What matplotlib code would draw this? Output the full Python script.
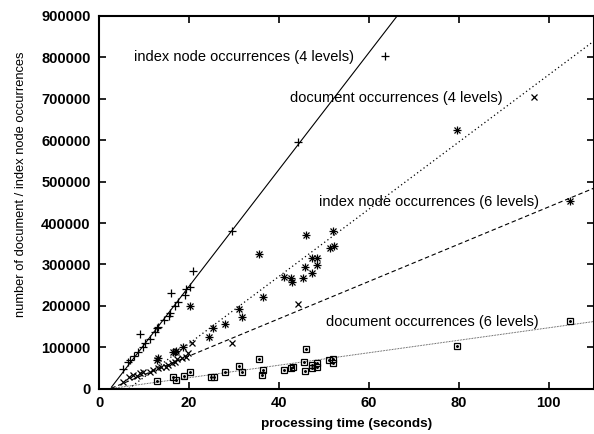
import matplotlib
matplotlib.use("Agg")
import matplotlib.pyplot as plt
from matplotlib.legend import Legend
from matplotlib.legend_handler import HandlerTuple
import numpy as np

plt.rcParams['font.family'] = ['Liberation Sans', 'DejaVu Sans']

# ---------------- data ----------------
# index node occurrences (4 levels)  -> '+'
idx4_time = [5.3, 6.5, 6.9, 7.8, 8.6, 9.1, 9.8, 10.2, 11.3, 12.4, 12.8, 13.2, 14.4,
             15.6, 15.8, 16.0, 16.9, 17.6, 19.1, 19.3, 20.2, 21.0, 29.5, 44.3]
idx4_count = [47600, 65000, 69000, 80000, 89000, 132000, 101000, 110000, 119000, 138000,
              147000, 150000, 166000, 175000, 182000, 230000, 200000, 210000, 226000,
              241000, 245000, 283000, 381000, 596000]

# document occurrences (4 levels) -> 'x'
doc4_time = [5.4, 6.7, 7.6, 8.4, 9.1, 9.8, 11.3, 12.1, 13.2, 13.9, 14.9, 15.4, 16.2,
             16.9, 17.4, 18.4, 19.3, 19.8, 20.7, 29.5, 44.3]
doc4_count = [17000, 27500, 33000, 30700, 37000, 41000, 41000, 45000, 49000, 53000, 51700,
              57000, 61000, 65000, 71000, 73000, 75800, 85000, 109600, 110000, 204500]

# index node occurrences (6 levels) -> '*'
idx6_time = [12.8, 13.2, 16.5, 16.9, 17.2, 18.7, 20.2, 24.4, 25.4, 28.0, 31.1, 31.7,
             35.6, 36.4, 41.1, 42.8, 43.0, 45.4, 45.8, 46.0, 47.3, 47.3, 48.4, 48.4,
             51.3, 52.1, 52.2, 79.6]
idx6_count = [69000, 74000, 89000, 88000, 92000, 101000, 199000, 126000, 147000, 155500,
              191700, 173800, 324500, 220700, 268900, 266500, 258300, 266500, 294500,
              371000, 280000, 314800, 314800, 298600, 339000, 380700, 344500, 624500]

# document occurrences (6 levels) -> squares
doc6_time = [13.0, 16.4, 17.1, 18.8, 20.3, 25.0, 25.5, 28.0, 31.1, 31.7, 35.6, 36.3, 36.4,
             41.2, 42.8, 43.2, 45.6, 45.8, 46.0, 47.3, 47.4, 48.4, 48.5, 51.1, 52.1, 52.1, 79.6]
doc6_count = [18000, 27500, 21000, 30000, 41000, 29000, 27500, 40000, 55000, 39600, 71700,
              33000, 45100, 46000, 49200, 53000, 65200, 43500, 95100, 57000, 49200, 61300,
              53000, 69300, 71000, 61300, 103800]

# linear fits: count = slope * time + intercept
fit_slope = [14100, 4500, 8110, 1506]
fit_intercept = [-35300, -11250, -53500, -3600]

labels = ['index node occurrences (4 levels)', 'document occurrences (4 levels)',
          'index node occurrences (6 levels)', 'document occurrences (6 levels)']

x_ticks = [0, 20, 40, 60, 80, 100]
y_ticks = [0, 100000, 200000, 300000, 400000, 500000, 600000, 700000, 800000, 900000]

# ---------------- figure ----------------
W, H = 594, 434
fig = plt.figure(figsize=(W / 100, H / 100), dpi=100)
ax_l, ax_r, ax_t, ax_b = 99, 593.5, 15.9, 388.7
ax = fig.add_axes([ax_l / W, (H - ax_b) / H, (ax_r - ax_l) / W, (ax_b - ax_t) / H])
ax.set_xlim(0, 110)
ax.set_ylim(0, 900000)

# fit lines
xs = np.linspace(0, 110, 400)
line_styles = [
    dict(ls='-', lw=0.8, color='black'),
    dict(ls=(0, (4.0, 2.5)), lw=0.8, color='black'),
    dict(ls=(0, (1.0, 2.2)), lw=0.9, color='black'),
    dict(ls=(0, (0.7, 0.9)), lw=0.7, color='#333333'),
]
for s, b, st in zip(fit_slope, fit_intercept, line_styles):
    ys = s * xs + b
    ax.plot(xs, np.where(ys >= 0, ys, np.nan), **st)

ms = 5
mk = dict(ls='none', color='black', mew=0.9)
h1, = ax.plot(idx4_time, idx4_count, marker='+', ms=ms + 1, **mk)
h2, = ax.plot(doc4_time, doc4_count, marker='x', ms=ms, **mk)
h3a, = ax.plot(idx6_time, idx6_count, marker='+', ms=ms + 1, **mk)
h3b, = ax.plot(idx6_time, idx6_count, marker='x', ms=ms, **mk)
h4a, = ax.plot(doc6_time, doc6_count, marker='s', ms=ms, mfc='none', **mk)
h4b, = ax.plot(doc6_time, doc6_count, marker='o', ms=1.2, **mk)

handles = [h1, h2, (h3a, h3b), (h4a, h4b)]
anchors = [(0.593, 0.8906), (0.8945, 0.779), (0.9673, 0.5016), (0.9673, 0.1781)]
for hnd, lab, anc in zip(handles, labels, anchors):
    leg = Legend(ax, [hnd], [lab], loc='center right', bbox_to_anchor=anc,
                 frameon=False, markerfirst=False, handlelength=1.0,
                 handletextpad=1.62, borderpad=0, borderaxespad=0,
                 fontsize=10.5, handler_map={tuple: HandlerTuple(ndivide=1)})
    ax.add_artist(leg)

ax.set_xticks(x_ticks)
ax.set_yticks(y_ticks)
ax.set_xticklabels([str(v) for v in x_ticks])
ax.set_yticklabels([str(v) for v in y_ticks])
ax.tick_params(direction='in', length=5, width=1.2, top=True, right=True,
               labelsize=10.5, pad=6)
ax.tick_params(axis='x', pad=5)
for lab in ax.get_xticklabels() + ax.get_yticklabels():
    lab.set_fontweight('bold')
for sp in ax.spines.values():
    sp.set_linewidth(1.5)

ax.set_xlabel('processing time (seconds)', fontsize=9.7, fontweight='bold', labelpad=6)
ax.set_ylabel('number of document / index node occurrences', fontsize=9.3)
ax.yaxis.set_label_coords(-0.145, 0.548)

fig.savefig('out.png', dpi=100)
